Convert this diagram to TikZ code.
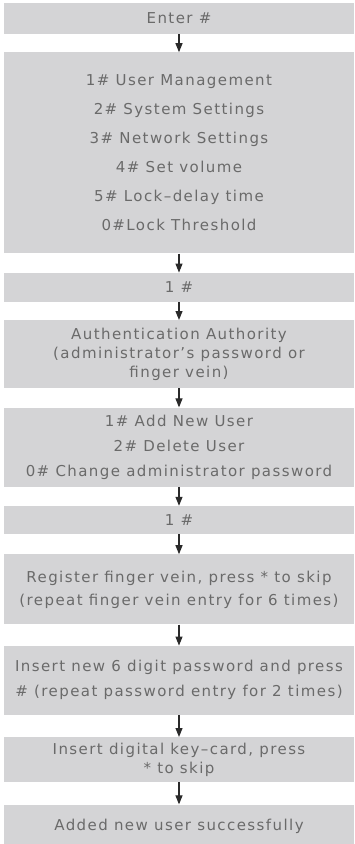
\documentclass[tikz,border=0pt]{standalone}
\usepackage{fontspec}
\usepackage{tikz}
\usetikzlibrary{positioning, arrows.meta}
\newfontfamily\menufont[Ligatures=TeX, LetterSpace=9.5]{DejaVu Sans}

\definecolor{boxgray}{HTML}{D4D4D6}
\definecolor{textgray}{HTML}{6A6A6A}
\definecolor{arrowgray}{HTML}{2A2A2A}

\begin{document}
\begin{tikzpicture}[
		x = 1pt, y = 1pt,
		menu box/.style = {fill = boxgray, text = textgray, minimum width = 350pt, inner sep = 0pt, align = center},
		flow/.style = {draw = arrowgray, line width = 1.1pt, -{Triangle[length = 9pt, width = 7pt]}}
	]
		\def\w{354};
		\def\h{844};
		\def\fs{15};
		
		\useasboundingbox (0,0) rectangle (\w,-\h);
		
		\node [menu box, minimum height = 31pt, font = \menufont\fontsize{\fs}{19}\selectfont] (enter) at (179,-18.5) {Enter \#};
		\node [menu box, minimum height = 201pt, below = 18pt of enter, font = \menufont\fontsize{\fs}{29}\selectfont] (main menu) {1\# User Management\\2\# System Settings\\3\# Network Settings\\4\# Set volume\\5\# Lock--delay time\\0\#Lock Threshold};
		\node [menu box, minimum height = 29pt, below = 19pt of main menu, font = \menufont\fontsize{\fs}{19}\selectfont] (choice one) {1 \#};
		\node [menu box, minimum height = 68pt, below = 18pt of choice one, font = \menufont\fontsize{\fs}{19}\selectfont] (auth) {Authentication Authority\\(administrator’s password or\\finger vein)};
		\node [menu box, minimum height = 79pt, below = 19pt of auth, font = \menufont\fontsize{\fs}{25}\selectfont] (user menu) {1\# Add New User\\2\# Delete User\\0\# Change administrator password};
		\node [menu box, minimum height = 28pt, below = 19pt of user menu, font = \menufont\fontsize{\fs}{19}\selectfont] (choice add) {1 \#};
		\node [menu box, minimum height = 70pt, below = 20pt of choice add, font = \menufont\fontsize{\fs}{23}\selectfont] (vein) {Register finger vein, press * to skip\\(repeat finger vein entry for 6 times)};
		\node [menu box, minimum height = 69pt, below = 21pt of vein, font = \menufont\fontsize{\fs}{25}\selectfont] (password) {Insert new 6 digit password and press\\\# (repeat password entry for 2 times)};
		\node [menu box, minimum height = 45pt, below = 22pt of password, font = \menufont\fontsize{\fs}{19}\selectfont] (card) {Insert digital key--card, press\\* to skip};
		\node [menu box, minimum height = 43pt, below = 22pt of card, font = \menufont\fontsize{\fs}{19}\selectfont] (done) {Added new user successfully};
		
		% arrows
		\draw [flow] (enter) -- (main menu);
		\draw [flow] (main menu) -- (choice one);
		\draw [flow] (choice one) -- (auth);
		\draw [flow] (auth) -- (user menu);
		\draw [flow] (user menu) -- (choice add);
		\draw [flow] (choice add) -- (vein);
		\draw [flow] (vein) -- (password);
		\draw [flow] (password) -- (card);
		\draw [flow] (card) -- (done);
	\end{tikzpicture}
\end{document}
